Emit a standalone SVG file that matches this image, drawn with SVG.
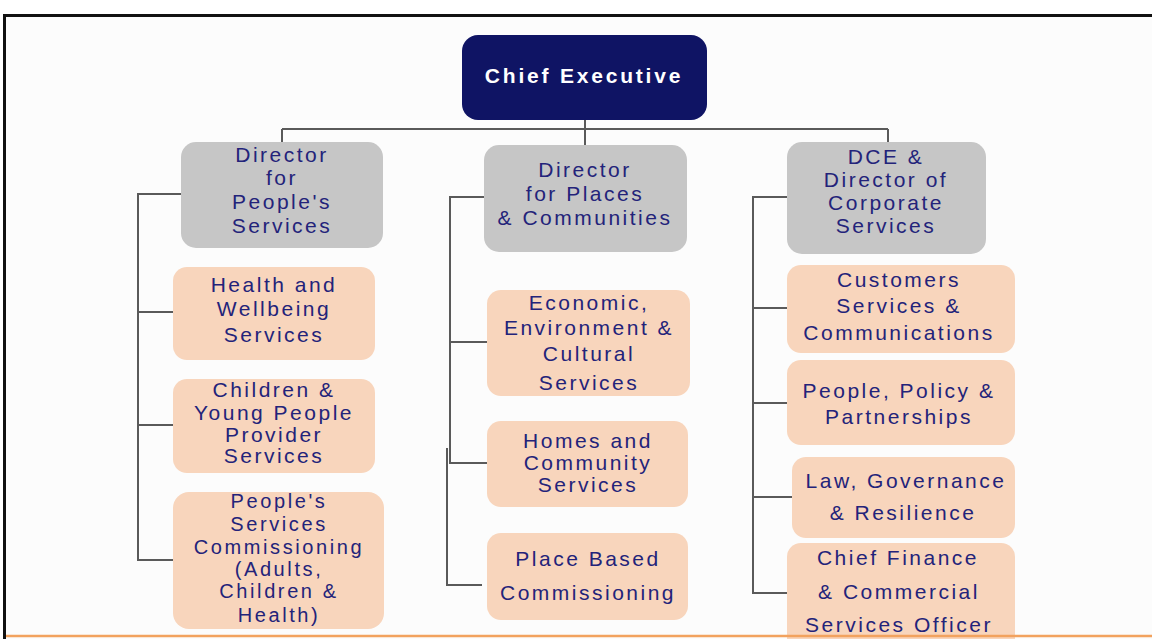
<svg xmlns="http://www.w3.org/2000/svg" width="1152" height="639" viewBox="0 0 1152 639">
<defs>
<style>
.frame{fill:#fcfcfc;}
.dir{fill:#c6c6c6;}
.unit{fill:#f8d5bc;}
.ceo{fill:#0f1464;}
.t{font-family:"Liberation Sans",Arial,sans-serif;font-size:21px;fill:#23237a;text-anchor:middle;letter-spacing:2.5px;}
.s{font-size:20px;letter-spacing:2.6px;}
.tc{font-family:"Liberation Sans",Arial,sans-serif;font-size:21px;font-weight:bold;fill:#ffffff;text-anchor:middle;letter-spacing:2.8px;}
.c{fill:none;stroke:#5a5a5a;stroke-width:2;}
</style>
</defs>
<rect x="0" y="0" width="1152" height="639" fill="#ffffff"/>
<rect class="frame" x="5" y="15" width="1147" height="624"/>
<line x1="3" y1="15.5" x2="1152" y2="15.5" stroke="#111" stroke-width="3"/>
<line x1="4.5" y1="14" x2="4.5" y2="639" stroke="#111" stroke-width="3"/>

<g id="connectors">
<path class="c" d="M585 120 V129 M282 129 H888 M282 129 V142 M585 129 V145 M888 129 V142"/>
<path class="c" d="M181 194 H138 V560 H173 M138 312 H173 M138 425 H173"/>
<path class="c" d="M484 197 H450 V463 H487 M450 342 H487 M447 448 V585 H482"/>
<path class="c" d="M787 197 H753 V593 H787 M753 308 H787 M753 403 H787 M753 497 H792"/>
</g>

<g id="chief-executive">
<rect class="ceo" x="462" y="35" width="245" height="85" rx="16"/>
<text class="tc" x="584" y="83">Chief Executive</text>
</g>

<g id="director-people">
<rect class="dir" x="181" y="142" width="202" height="106" rx="15"/>
<text class="t" x="282" y="162">Director</text>
<text class="t" x="282" y="185">for</text>
<text class="t" x="282" y="209">People's</text>
<text class="t" x="282" y="233">Services</text>
</g>

<g id="director-places">
<rect class="dir" x="484" y="145" width="203" height="107" rx="15"/>
<text class="t" x="585" y="177">Director</text>
<text class="t" x="585" y="201">for Places</text>
<text class="t" x="585" y="225">&amp; Communities</text>
</g>

<g id="director-corporate">
<rect class="dir" x="787" y="142" width="199" height="112" rx="15"/>
<text class="t" x="886" y="164">DCE &amp;</text>
<text class="t" x="886" y="187">Director of</text>
<text class="t" x="886" y="210">Corporate</text>
<text class="t" x="886" y="233">Services</text>
</g>

<g id="health-wellbeing">
<rect class="unit" x="173" y="267" width="202" height="93" rx="14"/>
<text class="t" x="274" y="292">Health and</text>
<text class="t" x="274" y="316">Wellbeing</text>
<text class="t" x="274" y="342">Services</text>
</g>

<g id="children-young-people">
<rect class="unit" x="173" y="379" width="202" height="94" rx="14"/>
<text class="t" x="274" y="397">Children &amp;</text>
<text class="t" x="274" y="420">Young People</text>
<text class="t" x="274" y="442">Provider</text>
<text class="t" x="274" y="463">Services</text>
</g>

<g id="peoples-commissioning">
<rect class="unit" x="173" y="492" width="211" height="137" rx="16"/>
<text class="t s" x="279" y="508">People's</text>
<text class="t s" x="279" y="531">Services</text>
<text class="t s" x="279" y="554">Commissioning</text>
<text class="t s" x="279" y="576">(Adults,</text>
<text class="t s" x="279" y="598">Children &amp;</text>
<text class="t s" x="279" y="622">Health)</text>
</g>

<g id="economic-environment">
<rect class="unit" x="487" y="290" width="203" height="106" rx="14"/>
<text class="t" x="589" y="310">Economic,</text>
<text class="t" x="589" y="335">Environment &amp;</text>
<text class="t" x="589" y="361">Cultural</text>
<text class="t" x="589" y="390">Services</text>
</g>

<g id="homes-community">
<rect class="unit" x="487" y="421" width="201" height="86" rx="14"/>
<text class="t" x="588" y="448">Homes and</text>
<text class="t" x="588" y="470">Community</text>
<text class="t" x="588" y="492">Services</text>
</g>

<g id="place-based">
<rect class="unit" x="487" y="533" width="201" height="87" rx="14"/>
<text class="t" x="588" y="566">Place Based</text>
<text class="t" x="588" y="600">Commissioning</text>
</g>

<g id="customers-services">
<rect class="unit" x="787" y="265" width="228" height="88" rx="14"/>
<text class="t" x="899" y="287">Customers</text>
<text class="t" x="899" y="313">Services &amp;</text>
<text class="t" x="899" y="340">Communications</text>
</g>

<g id="people-policy">
<rect class="unit" x="787" y="360" width="228" height="85" rx="14"/>
<text class="t" x="899" y="398">People, Policy &amp;</text>
<text class="t" x="899" y="424">Partnerships</text>
</g>

<g id="law-governance">
<rect class="unit" x="792" y="457" width="223" height="81" rx="14"/>
<text class="t" x="906" y="488">Law, Governance</text>
<text class="t" x="903" y="520">&amp; Resilience</text>
</g>

<g id="chief-finance">
<rect class="unit" x="787" y="543" width="228" height="110" rx="14"/>
<text class="t" x="898" y="565">Chief Finance</text>
<text class="t" x="899" y="599">&amp; Commercial</text>
<text class="t" x="899" y="632">Services Officer</text>
</g>
<line x1="6" y1="636" x2="1152" y2="636" stroke="#f2a25e" stroke-width="2.5"/>
</svg>
